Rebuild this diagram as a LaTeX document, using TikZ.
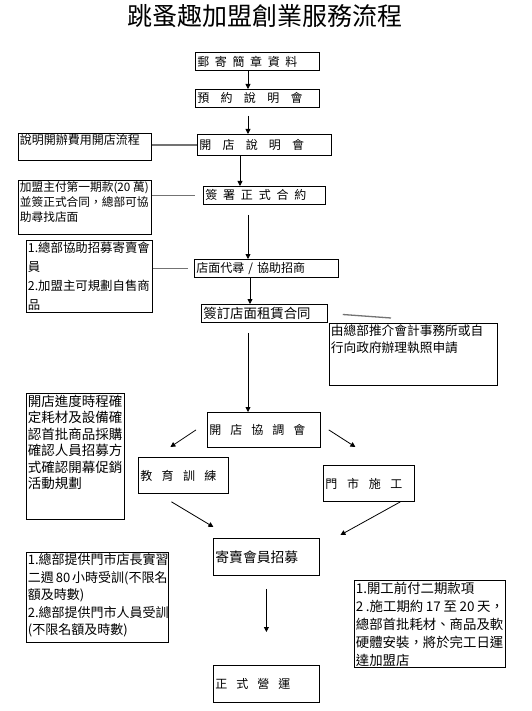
\documentclass[tikz,border=0pt]{standalone}
\usepackage{fontspec}
\setmainfont{Noto Sans CJK TC}
\usetikzlibrary{arrows.meta,positioning,calc}
\newcommand{\gap}[1]{\hspace{#1pt}}

\begin{document}
\begin{tikzpicture}[
    x=1pt, y=-1pt,
    arr/.style={-{Triangle[length=5pt,width=5pt]}, line width=0.8pt},
    link/.style={black!55, line width=1.3pt},
    stage/.style={draw, line width=0.8pt, anchor=north west, inner xsep=2pt,
      inner ysep=0pt, align=left, font=\fontsize{12}{14}\selectfont},
    note/.style n args={2}{draw, line width=0.8pt, anchor=north west, inner sep=1.5pt,
      execute at begin node={\begin{minipage}[t][#2][t]{#1}\raggedright},
      execute at end node={\end{minipage}}},
  ]
  \useasboundingbox (0,0) rectangle (531,711);

  % Title
  \node[font=\fontsize{25}{30}\selectfont] (title) at (265,16) {跳蚤趣加盟創業服務流程};

  % Main column
  \coordinate (spine) at (248,0);
  \node[stage, text width=120pt, minimum height=18pt] (mail) at (195,52)
    {郵\gap{5.6}寄\gap{5.6}簡\gap{5.6}章\gap{5.6}資\gap{5.6}料};
  \node[stage, text width=120pt, minimum height=18pt] (invite) at (195,89)
    {預\gap{11.3}約\gap{11.3}說\gap{11.3}明\gap{11.3}會};
  \node[stage, text width=130pt, minimum height=21pt] (talk) at (197,134)
    {開\gap{11.2}店\gap{11.2}說\gap{11.2}明\gap{11.2}會};
  \node[stage, text width=118pt, minimum height=18pt] (sign) at (203,186)
    {簽\gap{5.8}署\gap{5.8}正\gap{5.8}式\gap{5.8}合\gap{5.8}約};
  \node[stage, text width=140pt, minimum height=18pt] (scout) at (194,259)
    {店面代尋 / 協助招商};
  \node[stage, text width=122pt, minimum height=18pt,
        font=\fontsize{13.4}{15}\selectfont] (lease) at (201,304)
    {簽訂店面租賃合同};
  \node[stage, text width=109pt, minimum height=35pt] (kickoff) at (207,412)
    {開\gap{9}店\gap{9}協\gap{9}調\gap{9}會};
  \node[stage, text width=86pt, minimum height=36pt] (train) at (138,457)
    {教\gap{9.3}育\gap{9.3}訓\gap{9.3}練};
  \node[stage, text width=87pt, minimum height=36pt] (build) at (323,465)
    {門\gap{9.7}市\gap{9.7}施\gap{9.7}工};
  \node[stage, text width=102pt, minimum height=37pt,
        font=\fontsize{13.8}{15}\selectfont] (recruit) at (213,538)
    {寄賣會員招募};
  \node[stage, text width=102pt, minimum height=37pt] (open) at (213,665)
    {正\gap{9}式\gap{9}營\gap{9}運};

  % Side notes
  \node[note={130pt}{24pt}, font=\fontsize{12}{15}\selectfont] (fees) at (18,133)
    {說明開辦費用開店流程};
  \node[note={130pt}{51pt}, font=\fontsize{11.7}{15}\selectfont] (deposit) at (18,180)
    {加盟主付第一期款(20~萬)\\並簽正式合同，總部可協\\助尋找店面};
  \node[note={123pt}{69pt}, font=\fontsize{12.4}{19}\selectfont] (helpnote) at (26,240)
    {1.總部協助招募寄賣會\\員\\2.加盟主可規劃自售商\\品};
  \node[note={165pt}{59pt}, font=\fontsize{12.7}{17}\selectfont] (permit) at (329,323)
    {由總部推介會計事務所或自\\行向政府辦理執照申請};
  \node[note={95pt}{123pt}, font=\fontsize{13.5}{16.5}\selectfont] (prep) at (26,393)
    {開店進度時程確\\定耗材及設備確\\認首批商品採購\\確認人員招募方\\式確認開幕促銷\\活動規劃};
  \node[note={139pt}{87pt}, font=\fontsize{13}{17.5}\selectfont] (course) at (26,552)
    {1.總部提供門市店長實習\\二週~80~小時受訓(不限名\\額及時數)\\2.總部提供門市人員受訓\\(不限名額及時數)};
  \node[note={148pt}{84pt}, font=\fontsize{13.4}{18}\selectfont] (works) at (354,580)
    {1.開工前付二期款項\\2~.施工期約~17~至~20~天，\\總部首批耗材、商品及軟\\硬體安裝，將於完工日運\\達加盟店};

  % Flow arrows
  \draw[arr] (mail.south -| spine) -- (invite.north -| spine);
  \draw[arr, shorten <=8pt] (invite.south -| spine) -- (talk.north -| spine);
  \draw[arr] ($(talk.south -| spine)+(-8,0)$) -- ($(sign.north -| spine)+(-8,0)$);
  \draw[arr, shorten <=10pt] (sign.south -| spine) -- (scout.north -| spine);
  \draw[arr] ($(scout.south -| spine)+(2,0)$) -- ($(lease.north -| spine)+(2,0)$);
  \draw[arr, shorten <=10pt] (lease.south -| spine) -- (kickoff.north -| spine);
  \draw[arr] ($(kickoff.west)+(-11,0)$) -- ($(train.north)+(-13,-10)$);
  \draw[arr] ($(kickoff.east)+(8,0)$) -- ($(build.north)+(-13.5,-18)$);
  \draw[arr] ($(train.south)+(-12,8)$) -- ($(recruit.north)+(-53,-11)$);
  \draw[arr] ($(build.south)+(31.5,0)$) -- ($(recruit.north)+(74,-3)$);
  \draw[arr, shorten <=13pt, shorten >=33pt] (recruit.south) -- (open.north);

  % Note links
  \draw[link] (fees.east |- talk.west) -- (talk.west);
  \draw[link, shorten >=8pt] (deposit.east |- sign.west) -- (sign.west);
  \draw[link, shorten >=6pt] (helpnote.east |- scout.west) -- (scout.west);
  \draw[link, shorten <=15pt] (lease.east) -- ($(permit.north west)+(62,-5)$);

\end{tikzpicture}
\end{document}
